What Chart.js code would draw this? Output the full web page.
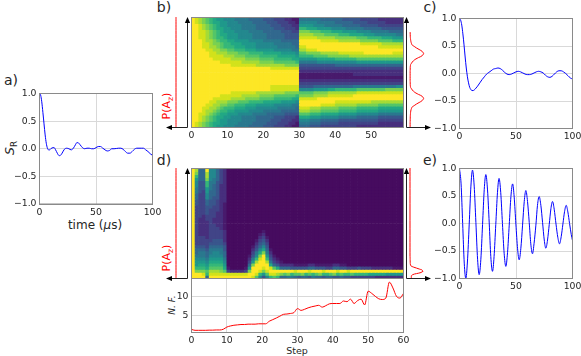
<!DOCTYPE html>
<html>
<head>
<meta charset="utf-8">
<script src="https://cdn.jsdelivr.net/npm/chart.js@4"></script>
<style>
  body { margin: 0; background: #fff; width: 581px; height: 356px; overflow: hidden; position: relative; font-family: "DejaVu Sans", sans-serif; color: #262626; }
  canvas { position: absolute; left: 0; top: 0; }
  canvas.mapa { filter: blur(0.6px); }
  svg { position: absolute; left: 0; top: 0; }
  .txt { position: absolute; white-space: nowrap; transform: translate(-50%, -50%); }
  .rot { transform: translate(-50%, -50%) rotate(-90deg); }
  .panel { font-size: 14px; }
  .rojo { color: #f00; font-size: 11px; }
  sub { font-size: 70%; line-height: 0; }
</style>
</head>
<body>
<div class="txt panel" style="left:11px;top:80px">a)</div>
<div class="txt panel" style="left:164px;top:7px">b)</div>
<div class="txt panel" style="left:430px;top:7px">c)</div>
<div class="txt panel" style="left:164px;top:160px">d)</div>
<div class="txt panel" style="left:430px;top:160px">e)</div>
<div class="txt rot" style="left:9px;top:148px;font-size:12.5px"><i>S</i><sub>R</sub></div>
<div class="txt" style="left:95px;top:225px;font-size:12px">time (<i>μ</i>s)</div>
<div class="txt" style="left:297px;top:350px;font-size:9.5px">Step</div>
<div class="txt rot" style="left:172px;top:305px;font-size:9px"><i>N. F.</i></div>
<div class="txt rot rojo" style="left:166px;top:106px">P(A<sub>z</sub>)</div>
<div class="txt rot rojo" style="left:166px;top:258px">P(A<sub>z</sub>)</div>
<script>
// Curva del panel a
const tiempoA = [0,1,2,3,4,5,6,7,8,9,10,12,13,14,16,17,18,19,20,22,24,26,28,30,32,33,34,36,38,40,42,44,46,48,50,52,54,56,58,60,62,64,66,70,72,74,76,78,80,82,84,86,90,92,94,96,98,100];
const valoresA = [1,.97,.85,.66,.45,.25,.1,.01,-.02,-.02,0,.02,.02,-.01,-.09,-.12,-.125,-.11,-.08,-.01,.01,0,-.02,.01,.08,.11,.11,.07,.02,0,.01,.01,0,0,.02,.04,.04,.01,-.02,-.04,-.03,0,0,.01,.01,-.01,-.05,-.08,-.08,-.05,-.01,.01,.01,.01,-.02,-.05,-.09,-.12];

// Curva del panel c
const tiempoC = [0,1,2,3,4,5,6,7,8,9,10,11,12,13,14,16,18,20,22,24,26,28,30,32,34,36,38,40,42,44,46,48,50,52,54,56,58,60,62,64,66,68,70,72,74,76,78,80,82,84,86,88,90,92,94,96,98,100];
const valoresC = [1,.97,.88,.72,.52,.3,.1,-.06,-.17,-.25,-.29,-.31,-.31,-.3,-.28,-.23,-.17,-.11,-.06,-.01,.02,.05,.08,.09,.1,.09,.06,.02,-.01,-.02,-.01,.01,.03,.04,.03,.01,-.01,-.02,-.02,-.01,.01,.03,.04,.03,.01,-.03,-.06,-.07,-.05,-.01,.03,.05,.05,.03,0,-.04,-.08,-.1];

// Curva del panel e
const tiempoE = [0,1.4,2.8,4.2,5.6,7,8.6,10.1,11.5,13,14.5,16,17.4,18.9,20.4,21.9,23.3,24.8,26.3,27.7,29.2,30.6,32.1,33.6,35,36.5,38,39.5,41,42.5,44,45.5,47,48.4,49.9,51.4,52.8,54.3,55.8,57.3,58.7,60.2,61.7,63.1,64.6,66,67.6,69,70.5,72,73.5,75,76.4,77.9,79.4,80.9,82.3,83.8,85.4,87,88.5,90,91.5,93,94.4,95.9,97.4,98.9,100];
const valoresE = [1,.72,0,-.72,-1,-.7,-.01,.68,.97,.68,.02,-.65,-.93,-.65,-.02,.62,.89,.61,.01,-.6,-.87,-.6,-.02,.56,.82,.56,0,-.54,-.78,-.53,-.03,.49,.72,.48,-.01,-.46,-.66,-.45,-.03,.4,.6,.4,.02,-.37,-.55,-.36,-.03,.33,.49,.33,.02,-.3,-.45,-.3,-.02,.27,.4,.26,-.01,-.25,-.37,-.24,-.01,.22,.33,.21,0,-.2,-.31];

// N. F. por paso (panel d, abajo)
const pasosNF = [0,1,2,3,4,5,6,7,8,9,10,11,12,13,14,15,16,17,18,19,20,21,22,23,24,25,26,27,28,29,30,31,32,33,34,35,36,37,38,39,40,41,42,43,44,45,46,47,48,49,50,51,52,53,54,55,56,57,58,59,60];
const valoresNF = [1.07,.8,.8,.8,.8,.85,.85,.9,.9,1.1,1.7,2,2.2,2.3,2.4,2.4,2.5,2.5,2.5,2.6,2.6,2.6,3.3,3.75,4.2,4.7,5.2,5.3,5.45,5.7,6.8,6.3,6.6,7,7.3,7.5,7.7,7.2,7.6,8.1,8.2,8.2,8.2,8.9,8.7,9.4,8.2,9,9.4,7.8,11.6,11,10.2,9.5,9.3,9.7,14.1,12.5,10.2,9.7,11];

// Perfiles rojos a la derecha de los mapas (posicion 0-100, de abajo a arriba)
const posPerfilB = [0,5,10,14,18,21,24,26,28,30,32,35,38,41,45,50,55,59,62,65,68,70,72,74,76,79,82,86,89,93];
const valPerfilB = [.01,.01,.02,.04,.1,.3,.65,.88,1,.88,.6,.25,.08,.02,.01,.01,.01,.02,.08,.25,.6,.88,1,.88,.65,.3,.1,.04,.02,.01];
const posPerfilD = [0,1,2,3,4,5,6,7,8,9,10,11,13,20,100];
const valPerfilD = [.1,.1,.1,.2,.5,.85,1,.95,.75,.5,.25,.08,.02,0,0];

// Perfil plano a la izquierda
const posPlano = [0,100];
const valPlano = [.5,.5];

// Mapa b: una fila por cadena, de arriba a abajo, un digito hex (0-f) por paso
const mapaB = [
"fedcba98877766665555444333221166666655555544444333332222222",
"fedcba99887776666555544433322177777666665555544443333322222",
"ffedcba9887777666655554443332288887776666655555444443333333",
"ffedcba99887776666555554443332aa999888877776666655555444444",
"ffeedcba9888777766665555544433cccbbbaaa99988887777666665555",
"ffeedcba9988877776666555554444ddddcccbbbbaaa999988877777766",
"ffeedcbaa988877776666555554444eeeeedddddccccccbbbaaaa999888",
"fffeddcbaa99888877776666655555ffffffeeeeeddddddcccccbbbbaaa",
"fffeedccbaa9998888777776666655fffffffffffffffffeeeeeedddddd",
"fffeeddcbaaa999888777777666665eeffffffffffffffffffffeeeeeee",
"ffffeeddccbbaaa999888887777766ddeeeffffffffffffffffffffffff",
"fffffeedddcccbbbaaaa9999988887bbccccdddddeeeeeeeffffffffeee",
"fffffeeeedddcccbbbbaaaaa999998aaaabbbbccccccddddddddddddddd",
"ffffffeeeeeddddccccbbbbaaaaa998888899999aaaaaabbbbbbbbbbbbb",
"ffffffffeeeeeedddddccccbbbbbba66666777777777778888888888888",
"fffffffffffeeeeeeeddddddddcccc44444444445555555555555555555",
"ffffffffffffffffffffffeeeeeeee33333333333333333333333333333",
"ffffffffffffffffffffffffffffff22222222222222222222222222222",
"ffffffffffffffffffffffffffffff11111111111111122222222222222",
"ffffffffffffffffffffffffffffff11111111111111111111111111111",
"ffffffffffffffffffffffffffffff22222222222222222222222222222",
"ffffffffffffffffffffffffffffff33333333333333333333333333333",
"ffffffffffffffffffffffeeeeeeee44445555555555566666666666677",
"ffffffffffffffffffffffeeeeeeee7777888899aaaaaabbbbbbbbccccc",
"fffffffffffeeeeeeeddddddddccccbbbbccccddddddddeeeeeeeeeeeee",
"ffffffffeeeeeedddddccccbbbbbbaccccddddeeeeeeeffffffffffffff",
"ffffffeeeeeddddccccbbbbaaaaa99eeeeeffffffffffffffffffffffff",
"fffffeedddcccbbbaaaa9999988887ffffffffffeeeeeeeeeeddddddddd",
"ffffeeddccbbaaa999888887777766ffffffeeeeddddddccccccbbbbbbb",
"fffeeddcbaaa999888777777666665eeedddcccccbbbbbaaaaaa9999999",
"fffeddcbaa99888877776666655555dddcccbbbbbaaaaa9999998888888",
"ffeedcba9988877776666555554444bbbaaa99999888887777776666666",
"ffedcba9988777666655555444333299988877777666665555554444444",
"ffedcba9887777666655554443332277766655555444444444443333333",
"fedcba99887776666555544433322166655544444333333333332222222",
"fedcba98877766665555444333221155544433333333332222222222222"
];

// Mapa d: mismo formato
const mapaD = [
"fd55f7753200000000000000000000000000000000000000000000000000",
"fc55d7753200000000000000000000000000000000000000000000000000",
"fa55d7753200000000000000000000000000000000000000000000000000",
"f855c7653200000000000000000000000000000000000000000000000000",
"f744a6643200000000000000000000000000000000000000000000000000",
"f744a6542200000000000000000000000000000000000000000000000000",
"f64486542200000000000000000000000000000000000000000000000000",
"f64385542200000000000000000000000000000000000000000000000000",
"f53375542200000000000000000000000000000000000000000000000000",
"f53375442200000000000000000000000000000000000000000000000000",
"f43354432200000000000000000000000000000000000000000000000000",
"f43354432100000000000000000000000000000000000000000000000000",
"f33344332100000000000000000000000000000000000000000000000000",
"f33343332100000000000000000000000000000000000000000000000000",
"f33343322100000000000000000000000000000000000000000000000000",
"f33233322100000000000000000000000000000000000000000000000000",
"f32233222100000000000000000000000000000000000000000000000000",
"f32223222100000000000000000000000000000000000000000000000000",
"f32223322100000000000000000000000000000000000000000000000000",
"f32223332100000000000000000000000000000000000000000000000000",
"f32223333200000000001000000000000000000000000000000000000000",
"f32223333200000000012000000000000000000000000000000000000000",
"f33323333200000000023100000000000000000000000000000000000000",
"f33333444200000000134200000000000000000000000000000000000000",
"f33334444300000000245300000000000000000000000000000000000000",
"f44435555400000001357400000000000000000000000000000000000000",
"f55546666400000002479510000000000000000000000000000000000000",
"f566567765000000" + "0369c6200" + "00000000000000000000000000000000000",
"f666577775000000" + "147cf8310" + "00000000000000000000000000000000000",
"f777688886000000" + "26aefa421" + "00000000000000000000000000000000000",
"f888799997000000" + "38dffd632" + "10000000000000000000000000000000000",
"f8998aaaa8000000" + "5cffff954" + "22221111221111122110000000000000000",
"faaa9bbbb9100001" + "8fffefeb9" + "55544444554443355443334333222222111",
"fcccbdddcb322223" + "cffecefff" + "ffffefffefffefffeffefffffffffffffff",
"fffeaeeeeeeeeeee" + "ffea8beed" + "cbcabbcababcaabcabaabaaaa9999988888",
"ffff5fffffffffff" + "feb747aba" + "55665455465545544544333333322222222"
];

const viridis = ['#460b5f','#481a6c','#472f7d','#414487','#39568c','#31688e','#2a788e','#23888e','#1f988b','#22a884','#35b779','#54c568','#7ad151','#a5db36','#d2e21b','#fde725'];

Chart.defaults.font.family = '"DejaVu Sans", sans-serif';
Chart.defaults.font.size = 9.3;
Chart.defaults.color = '#262626';
Chart.defaults.animation = false;

const gris = '#8a8a8a';
const rejilla = '#d9d9d9';

// borde de los cuatro lados
const marco = {
    id: 'marco',
    afterDraw(chart) {
        const a = chart.chartArea, ctx = chart.ctx;
        ctx.save();
        ctx.strokeStyle = gris;
        ctx.lineWidth = 1;
        ctx.strokeRect(a.left, a.top, a.right - a.left, a.bottom - a.top);
        ctx.restore();
    }
};

function nuevoCanvas(clase) {
    const c = document.createElement('canvas');
    c.width = 581;
    c.height = 356;
    if (clase) c.className = clase;
    document.body.appendChild(c);
    return c.getContext('2d');
}

function sinMargen(s) {
    s.paddingLeft = s.paddingRight = s.paddingTop = s.paddingBottom = 0;
}

function pares(xs, ys) {
    return xs.map((x, i) => ({ x: x, y: ys[i] }));
}

function opcionesBase(caja, altoX, izqVisible) {
    return {
        responsive: false,
        events: [],
        layout: { padding: { left: izqVisible ? 0 : caja.l, top: caja.t, right: 581 - caja.r, bottom: 356 - caja.b - altoX } },
        plugins: { legend: { display: false }, tooltip: { enabled: false } }
    };
}

function ejeVisible(extra, ajuste) {
    return Object.assign({
        type: 'linear',
        grid: { color: rejilla, drawTicks: false, lineWidth: 1 },
        border: { color: gris },
        afterFit(s) { ajuste(s); sinMargen(s); }
    }, extra);
}

// grafico de linea con ejes
function graficoLinea(caja, xs, ys, color, ejeX, ejeY) {
    const altoX = 16;
    const op = opcionesBase(caja, altoX, true);
    op.scales = {
        x: ejeVisible(ejeX, s => { s.height = altoX; }),
        y: ejeVisible(ejeY, s => { s.width = caja.l; })
    };
    return new Chart(nuevoCanvas(), {
        type: 'scatter',
        data: { datasets: [{ data: pares(xs, ys), showLine: true, borderColor: color, borderWidth: 1, pointRadius: 0, cubicInterpolationMode: 'monotone' }] },
        options: op,
        plugins: [marco]
    });
}

// perfil sin ejes
function perfil(caja, vals, pos) {
    const op = opcionesBase(caja, 0, false);
    op.scales = {
        x: { type: 'linear', display: false, min: 0, max: 1 },
        y: { type: 'linear', display: false, min: 0, max: 100 }
    };
    return new Chart(nuevoCanvas(), {
        type: 'scatter',
        data: { datasets: [{ data: pares(vals, pos), showLine: true, borderColor: '#ff0000', borderWidth: 1, pointRadius: 0, cubicInterpolationMode: 'monotone', clip: false }] },
        options: op
    });
}

// mapa de calor con barras flotantes, un dataset por fila
function mapaCalor(caja, filas, conTicks) {
    const n = filas.length;
    const pasos = filas[0].split('').map((_, i) => i);
    const datasets = filas.map((fila, r) => ({
        data: pasos.map(() => [n - r - 1, n - r]),
        backgroundColor: fila.split('').map(d => viridis[parseInt(d, 16)]),
        borderWidth: 0,
        grouped: false,
        barPercentage: 1,
        categoryPercentage: 1
    }));
    const altoX = conTicks ? 16 : 0;
    const op = opcionesBase(caja, altoX, false);
    op.scales = {
        x: { type: 'category', display: false, offset: true },
        y: { type: 'linear', display: false, min: 0, max: n }
    };
    if (conTicks) {
        op.scales.x2 = ejeVisible({ position: 'bottom', axis: 'x', offset: false, min: 0, max: 59, ticks: { stepSize: 10, maxRotation: 0, includeBounds: false }, grid: { display: false, drawTicks: false } }, s => { s.height = altoX; });
    }
    return new Chart(nuevoCanvas('mapa'), {
        type: 'bar',
        data: { labels: pasos, datasets: datasets },
        options: op,
        plugins: [marco]
    });
}

function etiquetaUno(v) {
    return v.toFixed(1).replace('-', '\u2212');
}

const ejeTiempo = { min: 0, max: 100, ticks: { stepSize: 50, maxRotation: 0 } };
const ejeUno = { min: -1, max: 1, ticks: { stepSize: 0.5, callback: etiquetaUno } };

graficoLinea({ l: 39.5, t: 93.5, r: 152.5, b: 204 }, tiempoA, valoresA, '#0000ff', ejeTiempo, ejeUno);
graficoLinea({ l: 459.5, t: 18.5, r: 572.5, b: 128.5 }, tiempoC, valoresC, '#0000ff', ejeTiempo, ejeUno);
graficoLinea({ l: 459.5, t: 168.5, r: 572.5, b: 278.5 }, tiempoE, valoresE, '#0000ff', ejeTiempo, ejeUno);

mapaCalor({ l: 191.5, t: 17.5, r: 403.5, b: 127.5 }, mapaB, true);
mapaCalor({ l: 191.5, t: 168.5, r: 403.5, b: 278.5 }, mapaD, false);

graficoLinea({ l: 191.5, t: 278.5, r: 403.5, b: 332.5 }, pasosNF, valoresNF, '#ff0000',
    { min: 0, max: 60, ticks: { stepSize: 10, maxRotation: 0 } },
    { min: 0.2, max: 15.1, afterBuildTicks(s) { s.ticks = [{ value: 5 }, { value: 10 }]; }, ticks: { callback: v => v } });

perfil({ l: 410, t: 25, r: 424, b: 127 }, valPerfilB, posPerfilB);
perfil({ l: 410, t: 168, r: 423, b: 278 }, valPerfilD, posPerfilD);
perfil({ l: 170, t: 17, r: 182, b: 127 }, valPlano, posPlano);
perfil({ l: 170, t: 168, r: 182, b: 278 }, valPlano, posPlano);

// flechas de los ejes de los mapas
function flecha(x1, y1, x2, y2) {
    const a = Math.atan2(y2 - y1, x2 - x1), t = 6, w = 2.6;
    const bx = x2 - t * Math.cos(a), by = y2 - t * Math.sin(a);
    const px = w * Math.sin(a), py = w * Math.cos(a);
    return `<line x1="${x1}" y1="${y1}" x2="${bx}" y2="${by}" stroke="#222" stroke-width="1"/>` +
        `<polygon points="${x2},${y2} ${bx + px},${by - py} ${bx - px},${by + py}" fill="#000"/>`;
}
const svg = document.createElementNS('http://www.w3.org/2000/svg', 'svg');
svg.setAttribute('width', 581);
svg.setAttribute('height', 356);
svg.innerHTML =
    flecha(187.5, 127.5, 187.5, 17) + flecha(187.5, 127.5, 166, 127.5) +
    flecha(406.5, 127.5, 406.5, 17) + flecha(406.5, 127.5, 431, 127.5) +
    flecha(187.5, 278.5, 187.5, 168) + flecha(187.5, 278.5, 166, 278.5) +
    flecha(406.5, 278.5, 406.5, 168) + flecha(406.5, 278.5, 431, 278.5);
document.body.appendChild(svg);
</script>
</body>
</html>
